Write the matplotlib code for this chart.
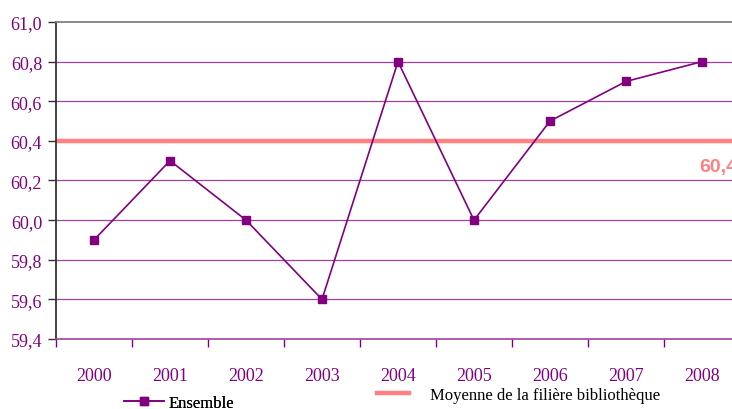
import matplotlib
matplotlib.use("Agg")
import matplotlib.pyplot as plt
from matplotlib.lines import Line2D

years = ["2000", "2001", "2002", "2003", "2004", "2005", "2006", "2007", "2008"]
ensemble = [59.9, 60.3, 60.0, 59.6, 60.8, 60.0, 60.5, 60.7, 60.8]
moyenne = 60.4
yticks = [59.4, 59.6, 59.8, 60.0, 60.2, 60.4, 60.6, 60.8, 61.0]

purple = "#800080"
grid_purple = "#A040A0"
salmon = "#FF8080"

fig = plt.figure(figsize=(7.32, 4.10), dpi=100)
ax = fig.add_axes([56/732, 70/410, 684/732, 317/410])

x = list(range(len(years)))
ax.set_xlim(-0.5, len(years) - 0.5)
ax.set_ylim(59.4, 61.0)

for v in yticks[1:-1]:
    ax.axhline(v, color=grid_purple, lw=0.9, zorder=1)

ax.axhline(moyenne, color=salmon, lw=3.2, zorder=2)
ax.plot(x, ensemble, color=purple, lw=1.2, marker="s", markersize=5.8,
        markerfacecolor=purple, markeredgecolor=purple, zorder=3)

ax.text(7.97, 60.27, f"{moyenne:.1f}".replace(".", ","), color=salmon, fontsize=14,
        fontweight="bold", family="Liberation Sans", ha="left", va="center",
        clip_on=False)

ax.set_yticks(yticks)
ax.set_yticklabels([f"{v:.1f}".replace(".", ",") for v in yticks],
                   family="Liberation Serif", fontsize=13, color=purple)
ax.set_xticks([i + 0.5 for i in range(-1, len(years))], minor=False)
ax.set_xticklabels([])
ax.set_xticks(x, minor=True)
ax.set_xticklabels(years, minor=True, family="Liberation Serif", fontsize=13,
                   color=purple)
ax.tick_params(axis="x", which="minor", length=0, pad=20)
ax.tick_params(axis="x", which="major", length=6, color=purple, width=1)
ax.tick_params(axis="y", length=6, color="#333333", width=1, pad=4)

ax.spines["left"].set_color("#333333")
ax.spines["left"].set_linewidth(1.3)
ax.spines["top"].set_color("#808080")
ax.spines["top"].set_linewidth(1.3)
ax.spines["bottom"].set_color(grid_purple)
ax.spines["bottom"].set_linewidth(1.2)
ax.spines["right"].set_visible(False)

h1 = Line2D([], [], color=purple, lw=1.2, marker="s", markersize=5.8)
leg1 = fig.legend(handles=[h1], labels=["Ensemble"], loc="center left",
                  bbox_to_anchor=(124/732, 1 - 404/410), frameon=False,
                  prop={"family": "Liberation Serif", "size": 12},
                  handlelength=2.4, handletextpad=0.3, borderaxespad=0,
                  borderpad=0)
h2 = Line2D([], [], color=salmon, lw=3.2)
leg2 = fig.legend(handles=[h2], labels=["Moyenne de la filière bibliothèque"],
                  loc="center left", bbox_to_anchor=(377/732, 1 - 396/410),
                  frameon=False, prop={"family": "Liberation Serif", "size": 12},
                  handlelength=1.9, handletextpad=1.3, borderaxespad=0,
                  borderpad=0)
fig.add_artist(leg1)

fig.savefig("out.png", dpi=100)
